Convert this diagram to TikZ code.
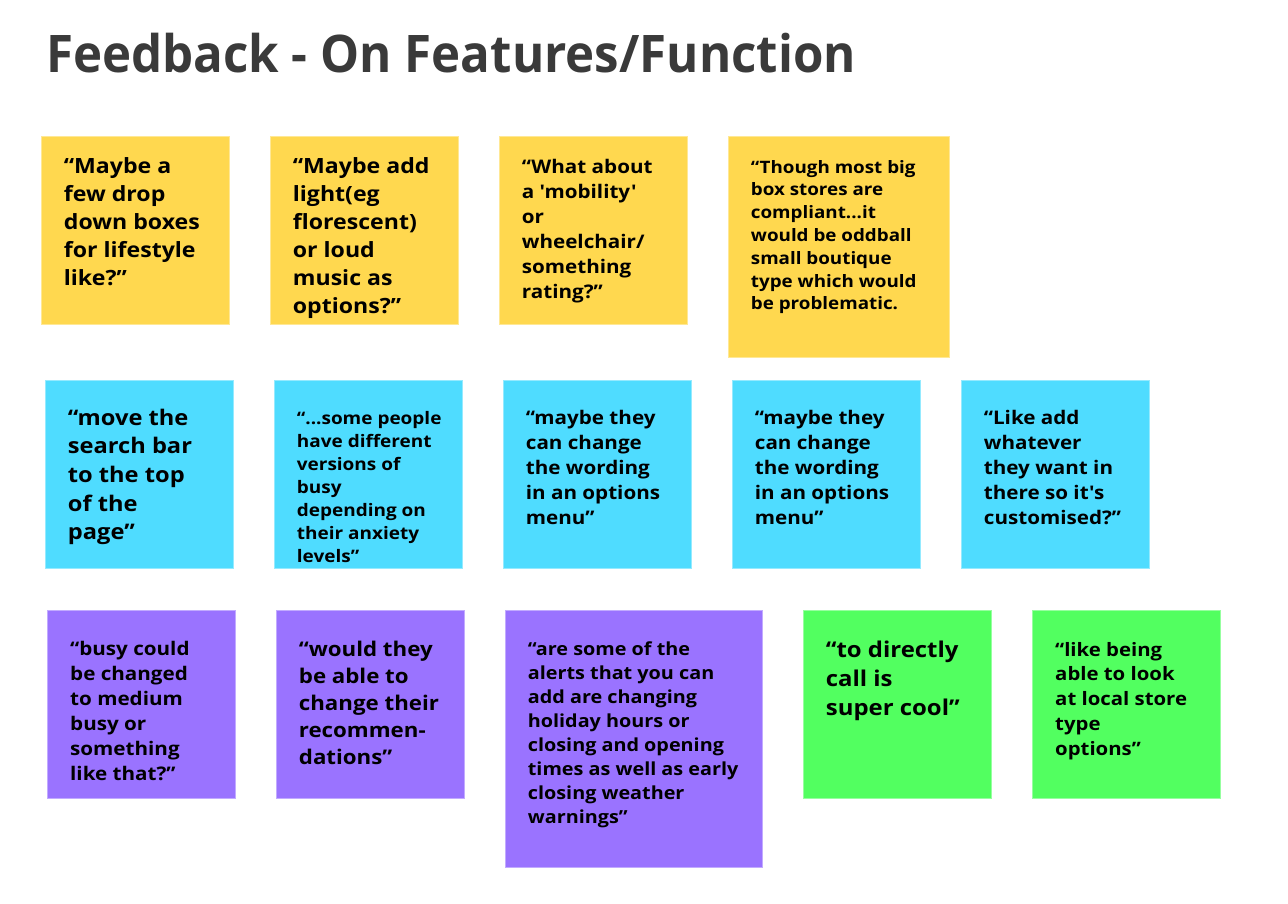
\documentclass[tikz,border=0pt]{standalone}
\usepackage{fontspec}
\setmainfont{Open Sans}[Ligatures=TeXOff]
\newfontfamily\notefont{Open Sans}[FakeStretch=1.1, Ligatures=TeXOff]
\newfontfamily\titlefont{Open Sans}[FakeStretch=0.95]
\usepackage{xcolor}
\usepackage{tikz}
\usetikzlibrary{positioning}
\definecolor{titlegrey}{HTML}{3A3A3A}
\definecolor{noteyellow}{HTML}{FFD84F}
\definecolor{notecyan}{HTML}{4FDCFF}
\definecolor{notepurple}{HTML}{9A73FF}
\definecolor{notegreen}{HTML}{52FF60}
\tikzset{
	sticky/.style={fill=#1, draw=#1!60!white, line width=1pt, anchor=north west, inner sep=0pt, minimum size=188pt},
	quote/.style 2 args={anchor=north west, inner sep=0pt, align=left, text=black, font=\notefont\bfseries\fontsize{#1}{#2}\selectfont},
}

\begin{document}
\begin{tikzpicture}[x=1pt,y=-1pt]
		\fill[white] (0,0) rectangle (1288,903);
		\useasboundingbox (0,0) rectangle (1288,903);
		\node[anchor=base west, inner sep=0pt, text=titlegrey, font=\titlefont\bfseries\fontsize{51.8}{60}\selectfont] (title) at (46,72) {Feedback - On Features/Function};

		\node[sticky=noteyellow] (y1) at (41,136) {};
		\node[sticky=noteyellow] (y2) at (270,136) {};
		\node[sticky=noteyellow] (y3) at (499,136) {};
		\node[sticky=noteyellow, minimum size=221pt] (y4) at (728,136) {};
		\node[quote={21}{28}, below right=17.4pt and 22.7pt of y1.north west] (y1t) {\strut“Maybe a\\few drop\\down boxes\\for lifestyle\\like?”};
		\node[quote={21}{28}, below right=17.4pt and 22.7pt of y2.north west] (y2t) {\strut“Maybe add\\light(eg\\florescent)\\or loud\\music as\\options?”};
		\node[quote={18.75}{25}, below right=19.5pt and 22.7pt of y3.north west] (y3t) {\strut“What about\\a 'mobility'\\or\\wheelchair/\\something\\rating?”};
		\node[quote={17.1}{22.8}, below right=21pt and 22.7pt of y4.north west] (y4t) {\strut“Though most big\\box stores are\\compliant...it\\would be oddball\\small boutique\\type which would\\be problematic.};

		\node[sticky=notecyan] (c1) at (45,380) {};
		\node[sticky=notecyan] (c2) at (274,380) {};
		\node[sticky=notecyan] (c3) at (503,380) {};
		\node[sticky=notecyan] (c4) at (732,380) {};
		\node[sticky=notecyan] (c5) at (961,380) {};
		\node[quote={21.5}{28.7}, below right=24.9pt and 22.7pt of c1.north west] (c1t) {\strut“move the\\search bar\\to the top\\of the\\page”};
		\node[quote={17.25}{23}, below right=28.2pt and 22.7pt of c2.north west] (c2t) {\strut“...some people\\have different\\versions of\\busy\\depending on\\their anxiety\\levels”};
		\node[quote={18.75}{25}, below right=26.9pt and 22.7pt of c3.north west] (c3t) {\strut“maybe they\\can change\\the wording\\in an options\\menu”};
		\node[quote={18.75}{25}, below right=26.9pt and 22.7pt of c4.north west] (c4t) {\strut“maybe they\\can change\\the wording\\in an options\\menu”};
		\node[quote={18.75}{25}, below right=26.9pt and 22.7pt of c5.north west] (c5t) {\strut“Like add\\whatever\\they want in\\there so it's\\customised?”};

		\node[sticky=notepurple] (p1) at (47,610) {};
		\node[sticky=notepurple] (p2) at (276,610) {};
		\node[sticky=notepurple, minimum size=257pt] (p3) at (505,610) {};
		\node[sticky=notegreen] (g1) at (803,610) {};
		\node[sticky=notegreen] (g2) at (1032,610) {};
		\node[quote={18.75}{25}, below right=27.5pt and 23pt of p1.north west] (p1t) {\strut“busy could\\be changed\\to medium\\busy or\\something\\like that?”};
		\node[quote={20.25}{27}, below right=27.1pt and 22.7pt of p2.north west] (p2t) {\strut“would they\\be able to\\change their\\recommen-\\dations”};
		\node[quote={18}{24}, below right=28.2pt and 22.7pt of p3.north west] (p3t) {\strut“are some of the\\alerts that you can\\add are changing\\holiday hours or\\closing and opening\\times as well as early\\closing weather\\warnings”};
		\node[quote={21.75}{29}, below right=26.7pt and 22.7pt of g1.north west] (g1t) {\strut“to directly\\call is\\super cool”};
		\node[quote={18.5}{24.7}, below right=28.7pt and 23pt of g2.north west] (g2t) {\strut“like being\\able to look\\at local store\\type\\options”};
\end{tikzpicture}
\end{document}
